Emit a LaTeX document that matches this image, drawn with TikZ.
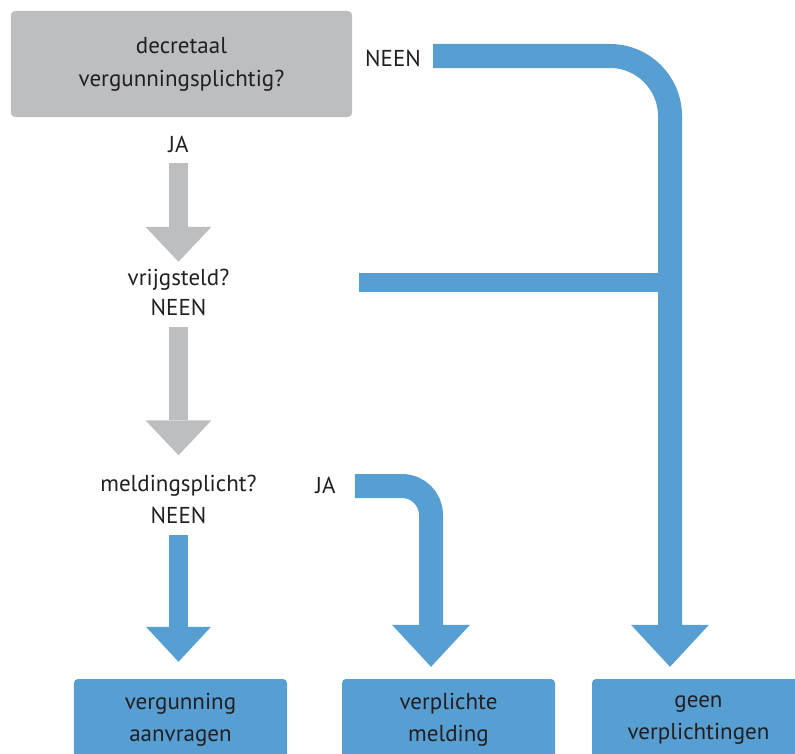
\documentclass[tikz,border=0pt]{standalone}
\usepackage{fontspec}
\setmainfont{PT Sans}
\usetikzlibrary{arrows.meta}
\definecolor{boxgray}{HTML}{BCBEC0}
\definecolor{flowblue}{HTML}{579FD3}
\definecolor{inkdark}{HTML}{231F20}
\tikzset{
    box/.style={rounded corners=4bp, minimum width=213bp, minimum height=82bp, inner sep=0pt, align=center, text=inkdark, font=\fontsize{23bp}{32bp}\selectfont},
    lbl/.style={inner sep=0pt, text height=15bp, text depth=0bp, text=inkdark, font=\fontsize{23bp}{32bp}\selectfont},
    grayarrow/.style={draw=boxgray, line width=19bp, -{Triangle[width=66bp,length=35bp,line width=0pt]}},
    bluearrow/.style={draw=flowblue, line width=24bp, -{Triangle[width=78bp,length=42bp,line width=0pt]}}
}
\begin{document}
\begin{tikzpicture}[x=1bp,y=-1bp]
            \useasboundingbox (0,0) rectangle (795,754);
            \coordinate (k1) at (670,56);
            \coordinate (k2) at (431,486);
            \coordinate (v0) at (359,282.5);

            \node[box, fill=boxgray, minimum width=341bp, minimum height=106bp, font=\fontsize{23bp}{33bp}\selectfont] (decr) at (181.5,64) {decretaal\\vergunningsplichtig?};
            \node[lbl] (ja1) at (178.5,144.5) {JA};
            \node[lbl] (vrij) at (178.5,277.5) {vrijgsteld?};
            \node[lbl] (neen2) at (178.5,308) {NEEN};
            \node[lbl] (meld) at (178.5,484) {meldingsplicht?};
            \node[lbl] (neen3) at (178.5,515.5) {NEEN};
            \node[lbl] (ja3) at (325.5,486) {JA};
            \node[lbl] (neen1) at (393,59) {NEEN};

            \node[box, fill=flowblue] (aanv) at (180.5,720) {vergunning\\aanvragen};
            \node[box, fill=flowblue] (verpl) at (448.5,720) {verplichte\\melding};
            \node[box, fill=flowblue] (geen) at (698.5,720) {geen\\verplichtingen};

            \draw[grayarrow, shorten <=11bp, shorten >=8bp] (ja1.south) -- (vrij.north);
            \draw[grayarrow, shorten <=11bp, shorten >=21bp] (neen2.south) -- (meld.north);

            \draw[bluearrow, line width=19bp, -{Triangle[width=65bp,length=35bp,line width=0pt]}, shorten <=12bp, shorten >=17bp] (neen3.south) -- (neen3.south |- aanv.north);
            \draw[bluearrow, rounded corners=29bp, shorten <=19bp, shorten >=12bp] (ja3.east) -- (k2) -- (k2 |- verpl.north);
            \draw[bluearrow, rounded corners=60bp, shorten <=12bp, shorten >=12bp] (neen1.east |- k1) -- (k1) -- (k1 |- geen.north);
            \draw[draw=flowblue, line width=19bp] (v0) -- (v0 -| k1); % joins the long bend
        \end{tikzpicture}
\end{document}
